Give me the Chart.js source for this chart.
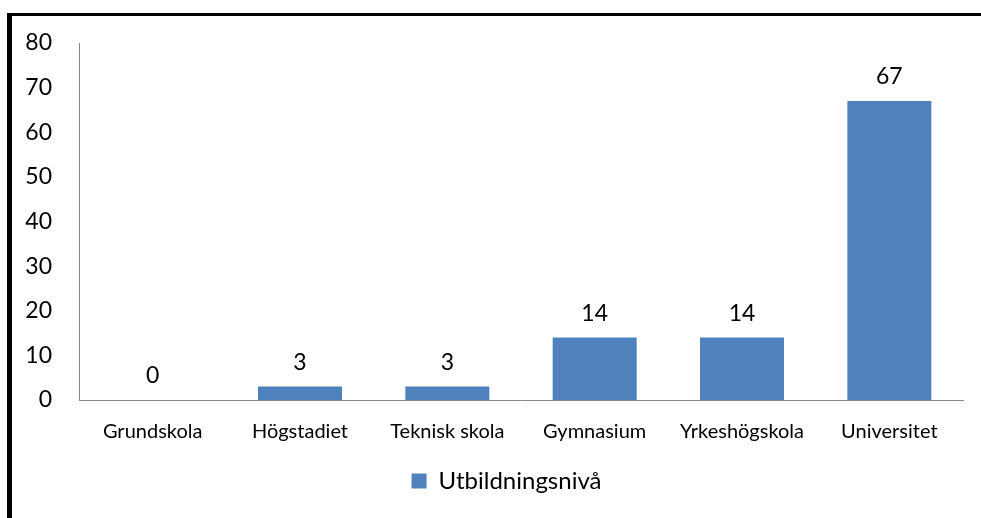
<!DOCTYPE html>
<html>
<head>
<meta charset="utf-8">
<script src="https://cdn.jsdelivr.net/npm/chart.js@4/dist/chart.umd.min.js"></script>
<style>
  html, body { margin: 0; padding: 0; background: #fff; overflow: hidden; }
  #frame { position: absolute; left: 7px; top: 13px; width: 1000px; height: 600px;
           border-left: 5px solid #000; border-top: 3px solid #000; box-sizing: border-box; }
  #c { position: absolute; left: 0; top: 0; }
</style>
</head>
<body>
<div id="frame"></div>
<canvas id="c" width="981" height="518"></canvas>
<script>
const categories = ['Grundskola', 'Högstadiet', 'Teknisk skola', 'Gymnasium', 'Yrkeshögskola', 'Universitet'];
const seriesName = 'Utbildningsnivå';
const values = [0, 3, 3, 14, 14, 67];
const yTicks = [0, 10, 20, 30, 40, 50, 60, 70, 80];

const FONT = 'Lato, Carlito, Calibri, sans-serif';

const dataLabels = {
  id: 'dataLabels',
  afterLayout(chart) {
    // centre the legend under the plot like the reference
    if (chart.legend) { chart.legend.left += 25; chart.legend.right += 25; }
  },
  afterDatasetsDraw(chart) {
    const ctx = chart.ctx;
    const meta = chart.getDatasetMeta(0);
    ctx.save();
    ctx.font = '23px ' + FONT;
    ctx.fillStyle = '#000';
    ctx.textAlign = 'center';
    ctx.textBaseline = 'middle';
    meta.data.forEach((bar, i) => {
      ctx.fillText(String(values[i]), bar.x, bar.y - 24);
    });
    ctx.restore();
  }
};

new Chart(document.getElementById('c'), {
  type: 'bar',
  data: {
    labels: categories,
    datasets: [{
      label: seriesName,
      data: values,
      backgroundColor: '#4F81BD',
      borderWidth: 0,
      barPercentage: 0.57,
      categoryPercentage: 1.0
    }]
  },
  options: {
    responsive: false,
    animation: false,
    devicePixelRatio: 1,
    layout: { padding: { left: 0, right: 18, top: 43, bottom: 15 } },
    plugins: {
      legend: {
        position: 'bottom',
        labels: {
          color: '#000',
          font: { family: FONT, size: 24 },
          boxWidth: 15,
          boxHeight: 15,
          padding: 8
        }
      },
      tooltip: { enabled: false }
    },
    scales: {
      x: {
        grid: { display: false, drawTicks: false },
        border: { display: true, color: '#868686', width: 1 },
        ticks: { color: '#000', font: { family: FONT, size: 20 }, padding: 20, maxRotation: 0, autoSkip: false },
        afterFit(scale) { scale.height = 61; }
      },
      y: {
        min: 0,
        max: 80,
        grid: { display: false, drawTicks: false },
        border: { display: true, color: '#868686', width: 1 },
        afterBuildTicks(scale) { scale.ticks = yTicks.map(v => ({ value: v })); },
        ticks: { color: '#000', font: { family: FONT, size: 23 }, padding: 27 },
        afterFit(scale) { scale.width = 79; }
      }
    }
  },
  plugins: [dataLabels]
});
</script>
</body>
</html>
